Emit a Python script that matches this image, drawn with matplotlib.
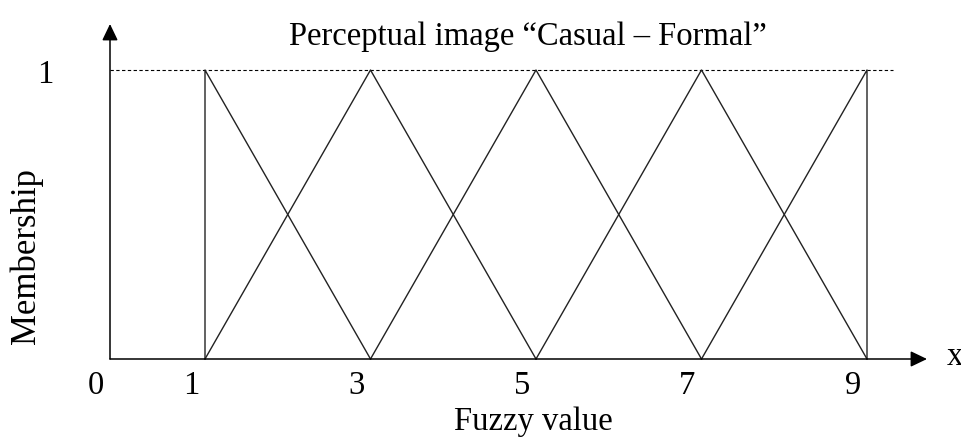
import matplotlib
matplotlib.use("Agg")
import matplotlib.pyplot as plt

# Data
centers = [1, 3, 5, 7, 9]
tick_values = [0, 1, 3, 5, 7, 9]
tick_labels = ["0", "1", "3", "5", "7", "9"]
title = "Perceptual image \u201cCasual \u2013 Formal\u201d"
xlabel = "Fuzzy value"
ylabel = "Membership"

plt.rcParams['font.family'] = ['Liberation Serif', 'DejaVu Serif']
FS = 23.5

W, H = 962, 439
fig = plt.figure(figsize=(W / 100, H / 100), dpi=100)
ax = fig.add_axes([0, 0, 1, 1])

# pixel -> data mapping
ux = 82.75
px0 = 205
uy = 289
py0 = 360
def dx(p):
    return 1 + (p - px0) / ux
def dy(p):
    return (py0 - p) / uy

ax.set_xlim(dx(0), dx(W))
ax.set_ylim(dy(H), dy(0))
ax.axis('off')

x_origin = dx(110)
x_end = dx(927)
y_top = dy(25)

astyle = '-|>,head_length=1.0,head_width=0.48'
# y axis with arrow
ax.annotate('', xy=(x_origin, y_top), xytext=(x_origin, 0),
            arrowprops=dict(arrowstyle=astyle, color='black',
                            lw=1.1, shrinkA=0, shrinkB=0))
# x axis with arrow
ax.annotate('', xy=(x_end, 0), xytext=(x_origin, 0),
            arrowprops=dict(arrowstyle=astyle, color='black',
                            lw=1.1, shrinkA=0, shrinkB=0))

# dashed line at membership 1
ax.plot([x_origin, dx(893)], [1, 1], ls=(0, (3, 2.2)), color='black', lw=0.8)

lc = '#222222'
lw = 1.0
step = centers[1] - centers[0]
for i, c in enumerate(centers):
    left = c - step if i > 0 else c
    right = c + step if i < len(centers) - 1 else c
    if i == 0:
        ax.plot([c, c, right], [0, 1, 0], color=lc, lw=lw)
    elif i == len(centers) - 1:
        ax.plot([left, c, c], [0, 1, 0], color=lc, lw=lw)
    else:
        ax.plot([left, c, right], [0, 1, 0], color=lc, lw=lw)

# tick labels (offset slightly left as in the reference)
off = -14 / ux
for v, lab in zip(tick_values, tick_labels):
    xv = x_origin if v == 0 else v
    ax.text(xv + off, dy(386), lab, ha='center', va='center', fontsize=FS)

ax.text(dx(45), dy(75), "1", ha='center', va='center', fontsize=FS)
ax.text(dx(955), dy(357), "x", ha='center', va='center', fontsize=FS)

ax.text(dx(528), dy(45), title, ha='center', va='baseline', fontsize=FS)
ax.text(dx(533), dy(430), xlabel, ha='center', va='baseline', fontsize=FS)
ax.text(dx(26), dy(256), ylabel, ha='center', va='center', rotation=90, fontsize=25)

fig.savefig('out.png', dpi=100)
